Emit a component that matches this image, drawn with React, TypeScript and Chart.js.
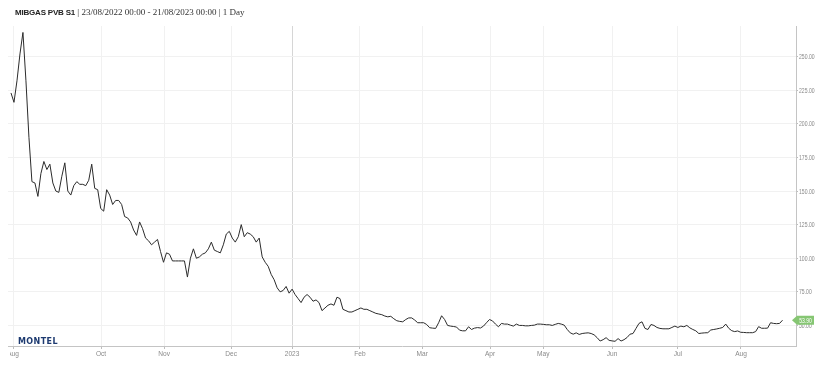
import React, { useEffect, useRef } from 'react';
import { Chart, registerables } from 'chart.js';

Chart.register(...registerables);

// Daily (trading-day) closing prices, €/MWh, 23/08/2022 - 21/08/2023
const prices: number[] = [
  223, 216, 232, 252, 268, 232, 190, 157, 156, 146,
  163, 172, 166, 170, 156, 150, 149, 161, 171, 150,
  147, 154, 157, 155, 155, 154, 158, 170, 152, 151,
  137, 135, 151, 147, 140, 143, 143, 140, 131, 130,
  127, 121, 117, 127, 122, 115, 113, 110, 112, 114,
  105, 97, 104, 103, 98, 98, 98, 98, 98, 86,
  100, 107, 100, 101, 103, 104, 107, 112, 106, 105,
  104, 110, 118, 120, 115, 112, 116, 125, 116, 119,
  118, 116, 112, 115, 101, 97, 94, 88, 84, 78,
  75, 76, 79, 74, 77, 73, 70, 67, 71, 73,
  71, 68, 69, 67, 61, 63, 65, 66, 65, 71,
  70, 62, 61, 60, 60, 61, 62, 63, 62, 62,
  61, 60, 59, 58.5, 58, 57, 56.4, 56.8, 55, 53.5,
  53, 52.7, 54.4, 55.6, 55.6, 54, 52, 52, 52, 50.7,
  48.3, 48, 47.8, 52, 57.2, 54.4, 50, 49.5, 49.2, 48.8,
  46.5, 46, 46, 49, 47, 48, 48.4, 48.1, 49.5, 52,
  54.4, 53.4, 51, 49, 51.5, 51, 51, 50.2, 49.5, 51,
  50, 50, 49.7, 49.7, 50, 50.2, 51, 51, 50.8, 50.5,
  50.5, 50, 50.8, 51.5, 51, 50.2, 47, 44.5, 43.5, 44.5,
  43.3, 44, 44.3, 44.5, 44, 43, 40.9, 38.4, 39.4, 40.9,
  38.9, 38.5, 38.2, 40.2, 38.4, 39.4, 41, 43.5, 44, 47.8,
  51.5, 52.7, 47.8, 47, 50.7, 50, 48.5, 47.8, 47.5, 47.5,
  47.5, 48.5, 49.5, 48.5, 49.5, 49, 50, 48.2, 47, 46,
  44, 44.3, 44.5, 44.6, 46.6, 47, 47.4, 47.9, 48.5, 51,
  47.9, 46.1, 45.4, 45.9, 44.9, 44.8, 44.6, 44.6, 44.6, 45.4,
  49.1, 47.9, 47.9, 48, 52, 51.5, 51.3, 51.5, 53.9,
];

const monthLabels: string[] = ['Aug', 'Oct', 'Nov', 'Dec', '2023', 'Feb', 'Mar', 'Apr', 'May', 'Jun', 'Jul', 'Aug'];
const monthTickIdx: number[] = [0.7, 30.1, 51.2, 73.6, 94, 116.7, 137.5, 160.2, 178, 201, 223, 244.1];
const yTicks: number[] = [50, 75, 100, 125, 150, 175, 200, 225, 250];

const titleName = 'MIBGAS PVB S1';
const titleRange = '23/08/2022 00:00 - 21/08/2023 00:00';
const titleRes = '1 Day';

const SANS = "'Liberation Sans', Arial, sans-serif";

function condensedText(ctx: CanvasRenderingContext2D, text: string, x: number, y: number, sx: number, align: CanvasTextAlign) {
  ctx.save();
  ctx.translate(x, y);
  ctx.scale(sx, 1);
  ctx.textAlign = align;
  ctx.fillText(text, 0, 0);
  ctx.restore();
}

const labelsPlugin = {
  id: 'condensedLabels',
  afterDraw(chart: any) {
    const ctx = chart.ctx as CanvasRenderingContext2D;
    const area = chart.chartArea;
    const ys = chart.scales.y;
    const xs = chart.scales.x;
    ctx.save();
    ctx.fillStyle = '#8a8a8a';
    ctx.textBaseline = 'middle';
    ctx.font = `7.5px ${SANS}`;
    yTicks.forEach((v) => {
      condensedText(ctx, v.toFixed(2), area.right + 3, ys.getPixelForValue(v) + 0.5, 0.68, 'left');
    });
    ctx.font = `8px ${SANS}`;
    ctx.textBaseline = 'top';
    ctx.beginPath();
    ctx.rect(10, area.bottom, chart.width, 30);
    ctx.clip();
    monthTickIdx.forEach((v, i) => {
      condensedText(ctx, monthLabels[i], xs.getPixelForValue(v), area.bottom + 4, 0.82, 'center');
    });
    ctx.restore();

    // last value badge
    const last = prices[prices.length - 1];
    const y = ys.getPixelForValue(last);
    const tip = area.right - 4;
    const bx = tip + 5;
    const bw = 17;
    const h = 9;
    ctx.save();
    ctx.fillStyle = '#86c673';
    ctx.beginPath();
    ctx.moveTo(tip, y);
    ctx.lineTo(bx, y - h / 2);
    ctx.lineTo(bx + bw, y - h / 2);
    ctx.lineTo(bx + bw, y + h / 2);
    ctx.lineTo(bx, y + h / 2);
    ctx.closePath();
    ctx.fill();
    ctx.fillStyle = '#ffffff';
    ctx.font = `7px ${SANS}`;
    ctx.textBaseline = 'middle';
    condensedText(ctx, last.toFixed(2), bx + bw / 2, y + 0.5, 0.72, 'center');
    ctx.restore();
  },
};

export default function App() {
  const ref = useRef<HTMLCanvasElement | null>(null);

  useEffect(() => {
    document.body.style.margin = '0';
    const canvas = ref.current;
    if (!canvas) return;
    const chart = new Chart(canvas, {
      type: 'line',
      data: {
        datasets: [
          {
            data: prices.map((v, i) => ({ x: i, y: v })),
            borderColor: '#2b2b2b',
            borderWidth: 1,
            pointRadius: 0,
            tension: 0,
            fill: false,
          },
        ],
      },
      options: {
        animation: false,
        responsive: false,
        maintainAspectRatio: false,
        layout: { padding: { top: 26, left: 8, right: 0, bottom: 0 } },
        plugins: { legend: { display: false }, tooltip: { enabled: false } },
        scales: {
          x: {
            type: 'linear',
            min: -1,
            max: 262.5,
            afterBuildTicks: (scale: any) => {
              scale.ticks = monthTickIdx.map((v) => ({ value: v }));
            },
            afterFit: (scale: any) => {
              scale.height = 27;
            },
            ticks: {
              display: false,
              autoSkip: false,
              maxRotation: 0,
            },
            grid: {
              color: (ctx: any) => {
                const i = ctx.tick ? monthTickIdx.indexOf(ctx.tick.value) : -1;
                return i >= 0 && monthLabels[i] === '2023' ? '#d6d6d6' : '#f1f1f1';
              },
              tickLength: 3,
              tickColor: '#bdbdbd',
            },
            border: { color: '#c4c4c4', width: 1 },
          },
          y: {
            type: 'linear',
            position: 'right',
            min: 34.7,
            max: 272.8,
            afterBuildTicks: (scale: any) => {
              scale.ticks = yTicks.map((v) => ({ value: v }));
            },
            afterFit: (scale: any) => {
              scale.width = 31;
            },
            ticks: { display: false },
            grid: {
              color: '#f1f1f1',
              tickLength: 2,
              tickColor: '#bdbdbd',
            },
            border: { color: '#c4c4c4', width: 1 },
          },
        },
      },
      plugins: [labelsPlugin],
    });
    return () => chart.destroy();
  }, []);

  return (
    <div style={{ position: 'fixed', left: 0, top: 0, width: 827, height: 373, background: '#ffffff' }}>
      <canvas ref={ref} width={827} height={373} style={{ display: 'block', width: 827, height: 373 }} />
      <div
        style={{
          position: 'absolute',
          left: 15,
          top: 7,
          whiteSpace: 'nowrap',
          fontSize: 9,
          lineHeight: '11px',
          color: '#333',
          fontFamily: "'Liberation Serif', serif",
        }}
      >
        <span style={{ fontFamily: SANS, fontWeight: 'bold', color: '#222', fontSize: 8, letterSpacing: -0.2 }}>
          {titleName}
        </span>
        {` | ${titleRange} | ${titleRes}`}
      </div>
      <div
        style={{
          position: 'absolute',
          left: 18,
          top: 337,
          fontFamily: "'DejaVu Sans', sans-serif",
          fontWeight: 'bold',
          fontSize: 8,
          letterSpacing: 0.4,
          color: '#1d3a70',
          lineHeight: '9px',
        }}
      >
        MONTEL
      </div>
    </div>
  );
}
